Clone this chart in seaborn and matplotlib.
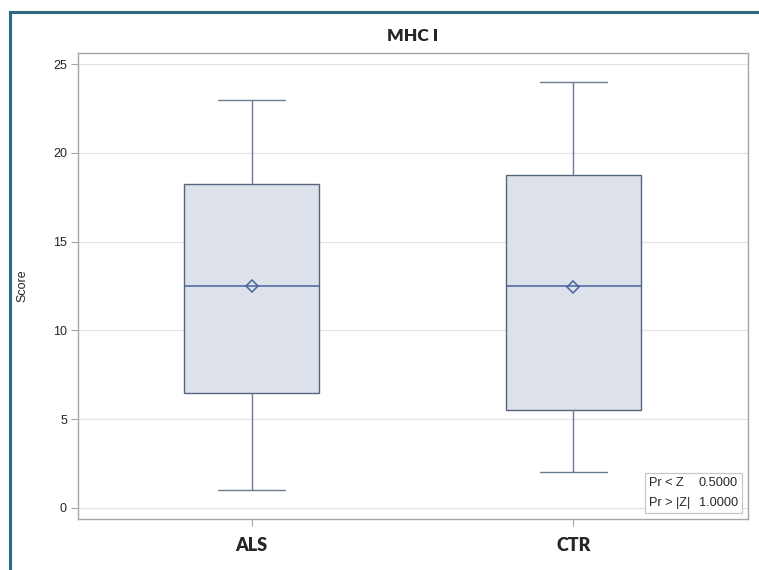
import numpy as np
import pandas as pd
import seaborn as sns
import matplotlib
matplotlib.use('Agg')
import matplotlib.pyplot as plt
from matplotlib.patches import Rectangle

# values (five-number summary + mean per group)
groups = ['ALS', 'CTR']
mins = [1.0, 2.0]
q1s = [6.5, 5.5]
medians = [12.5, 12.5]
q3s = [18.25, 18.75]
maxs = [23.0, 24.0]
means = [12.5, 12.45]
stat_labels = ['Pr < Z', 'Pr > |Z|']
stat_values = ['0.5000', '1.0000']

# long table of the summary points, one row each
rows = []
for g, a, b, c, d, e in zip(groups, mins, q1s, medians, q3s, maxs):
    for v in (a, b, c, d, e):
        rows.append({'Group': g, 'Score': v})
df = pd.DataFrame(rows)
mean_df = pd.DataFrame({'Group': groups, 'Score': means})

sns.set_style('white')
plt.rcParams['font.family'] = ['Liberation Sans', 'DejaVu Sans']

fig = plt.figure(figsize=(7.59, 5.70), dpi=100)
ax = fig.add_axes([0.1028, 0.0895, 0.8827, 0.8175])

edge = '#56657b'
sns.boxplot(data=df, x='Group', y='Score', order=groups, ax=ax,
            width=0.42, whis=10, color='#dbe1ec', linewidth=1.0,
            linecolor=edge,
            medianprops={'color': '#4862a0', 'linewidth': 1.1},
            whiskerprops={'color': '#6a7b93'},
            capprops={'color': '#6a7b93'},
            boxprops={'edgecolor': edge})
sns.pointplot(data=mean_df, x='Group', y='Score', order=groups, ax=ax,
              linestyle='none', marker='D', markersize=6.5,
              errorbar=None, color='#4a64a0',
              markerfacecolor='none', markeredgewidth=1.1)

ax.set_xlim(-0.54, 1.543)
ax.set_ylim(-0.62, 25.62)
ax.set_yticks([0, 5, 10, 15, 20, 25])
ax.yaxis.grid(True, color='#e3e3e3', linewidth=0.9)
ax.set_axisbelow(True)
for s in ax.spines.values():
    s.set_color('#a6a6a6')
    s.set_linewidth(1.0)
ax.tick_params(axis='y', length=5, color='#a6a6a6', labelsize=9, pad=3, left=True)
ax.tick_params(axis='x', length=5, color='#a6a6a6', pad=8, bottom=True)
for lab in ax.get_xticklabels():
    lab.set_fontfamily(['Lato', 'DejaVu Sans'])
    lab.set_fontweight('heavy')
    lab.set_fontsize(13)
ax.set_xlabel('')
ax.set_ylabel('Score', fontsize=9, labelpad=18)
ax.set_title('MHC I', fontsize=12.5, fontweight='heavy', family=['Lato', 'DejaVu Sans'], pad=9)

# inset stats box
ax.add_patch(Rectangle((0.846, 0.013), 0.145, 0.086, transform=ax.transAxes,
                       facecolor='white', edgecolor='#c8c8c8', linewidth=0.9, zorder=5))
for i, (lab, val) in enumerate(zip(stat_labels, stat_values)):
    yy = 0.077 - i * 0.043
    ax.text(0.852, yy, lab, transform=ax.transAxes, fontsize=9.2, va='center', ha='left', zorder=6)
    ax.text(0.985, yy, val, transform=ax.transAxes, fontsize=9.2, va='center', ha='right', zorder=6)

# outer frame of the graph (only left/top visible)
fig.patches.append(Rectangle((10 / 759, -0.1), 1.2, 1 - 12 / 570 + 0.1,
                             transform=fig.transFigure, fill=False,
                             edgecolor='#2e6a7e', linewidth=2.2, clip_on=False))

fig.savefig('out.png', dpi=100)
